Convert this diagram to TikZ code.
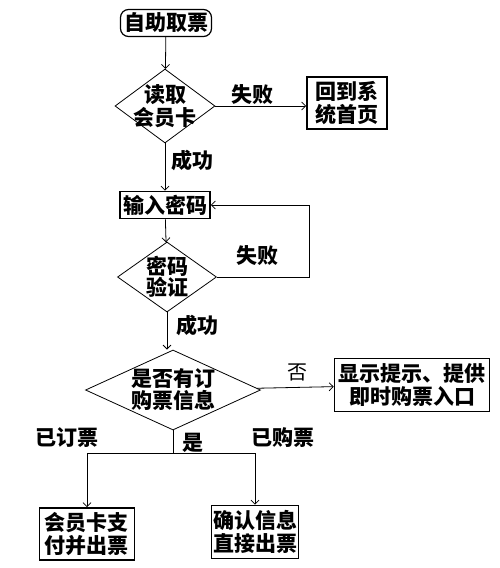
\documentclass[tikz,border=0pt]{standalone}
\usepackage{fontspec}
\setmainfont{Noto Sans CJK SC}
\usetikzlibrary{arrows.meta,shapes.geometric}

\begin{document}
\begin{tikzpicture}[x=1pt,y=-1pt,->,>={Straight Barb[length=4pt,width=8pt]},line width=0.8pt,
  every node/.style={font=\fontsize{21}{23}\selectfont\bfseries}]
\tikzstyle{box}=[draw,line width=1.6pt,shape=rectangle,inner sep=0pt,align=center]
\tikzstyle{decision}=[draw,line width=0.8pt,shape=diamond,inner sep=0pt]
\tikzstyle{txt}=[align=center,inner sep=0pt]
\useasboundingbox (0,0) rectangle (500,568);

\node[box,rounded corners=8pt,line width=1.2pt,minimum width=91pt,minimum height=27pt] (start) at (166,23) {自助取票};
\node[decision,minimum width=100pt,minimum height=74pt] (card) at (165,106) {};
\node[txt] (cardT) at (card) {读取\\会员卡};
\node[box,minimum width=80pt,minimum height=52pt] (back) at (347,103) {回到系\\统首页};
\node[box,minimum width=90pt,minimum height=27pt] (pwd) at (165,205) {输入密码};
\node[decision,minimum width=99pt,minimum height=70pt] (check) at (167,277) {};
\node[txt,font=\fontsize{21}{21}\selectfont\bfseries] (checkT) at (check) {密码\\验证};
\node[decision,minimum width=175pt,minimum height=80pt] (order) at (173,390) {};
\node[txt,font=\fontsize{21}{22}\selectfont\bfseries] (orderT) at (order) {是否有订\\购票信息};
\node[box,minimum width=155pt,minimum height=53pt] (hint) at (412,385) {显示提示、提供\\即时购票入口};
\node[box,minimum width=95pt,minimum height=52pt] (pay) at (87,534) {会员卡支\\付并出票};
\node[box,minimum width=87pt,minimum height=53pt] (print) at (255,532) {确认信息\\直接出票};

\coordinate (loop) at (309,0);
\coordinate (fork) at (173,453);

% labels on the connectors
\node[txt] (fail1) at (252,95) {失败};
\node[txt] (ok1) at (192,160) {成功};
\node[txt] (fail2) at (257,256) {失败};
\node[txt] (ok2) at (197,325) {成功};
\node[txt,font=\fontsize{20}{22}\selectfont] (no) at (297,372) {否};
\node[txt] (booked) at (67,438) {已订票};
\node[txt] (yes) at (193,443) {是};
\node[txt] (bought) at (283,438) {已购票};

\path
(start) edge (card)
(card) edge (pwd)
(pwd) edge (check)
(order) edge (hint)
;
\draw (card.east) -- (card.east -| back.west);
\draw (check.south) -- (check.south |- order.north);
\draw (check.east) -- (check.east -| loop) |- (pwd.east);
\draw[-] (order.south) -- (fork);
\draw (fork) -| (pay.north);
\draw (fork) -| (print.north);
\end{tikzpicture}
\end{document}
